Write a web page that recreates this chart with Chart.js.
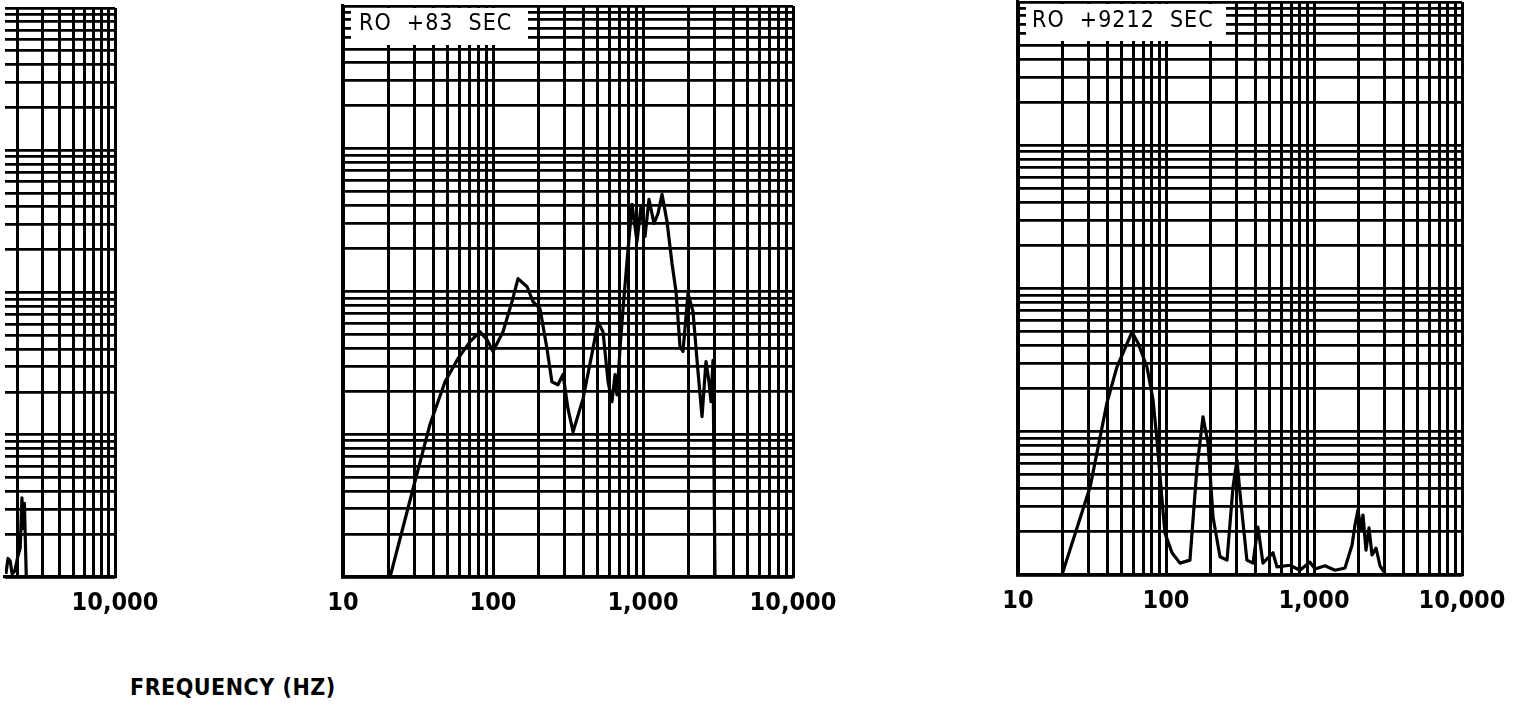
<!DOCTYPE html>
<html>
<head>
<meta charset="utf-8">
<title>Frequency spectra</title>
<script src="https://cdn.jsdelivr.net/npm/chart.js@4.4.1/dist/chart.umd.min.js"></script>
<style>
  html, body { margin: 0; padding: 0; background: #fff; }
  body { width: 1531px; height: 709px; position: relative; overflow: hidden; }
  canvas { position: absolute; top: 0; }
  #freqLabel {
    position: absolute; left: 130px; top: 674px;
    font: bold 23px "DejaVu Sans Condensed", sans-serif;
    letter-spacing: 0.5px; color: #000; white-space: nowrap;
  }
</style>
</head>
<body>
<canvas id="leftChart"></canvas>
<canvas id="midChart"></canvas>
<canvas id="rightChart"></canvas>
<div id="freqLabel">FREQUENCY (HZ)</div>

<script>
/* ------------------------------------------------------------
------------------------------------------------------------ */
const xTickLabels = { 10: '10', 100: '100', 1000: '1,000', 10000: '10,000' };

// panneau gauche (coupé) – juste la queue de la courbe
const leftFreq  = [1640, 1700, 1760, 1820, 1900, 2000, 2080, 2140, 2180, 2230, 2300];
const leftLevel = [1.05e-4, 1.35e-4, 1.3e-4, 1.05e-4, 1.1e-4, 1.4e-4, 1.6e-4, 3.6e-4, 2.2e-4, 3.3e-4, 1.0e-4];

// RO +83 SEC
const midFreq = [20.6, 29.3, 38.0, 47.9, 58.4, 70.3, 81.9, 91.2, 100, 116.6,
  133.9, 146.8, 168.6, 184.8, 205.7, 229, 247, 271, 293, 316,
  342, 398, 464, 501, 541, 585, 621, 651, 671, 703,
  736, 782, 845, 912, 970, 1031, 1096, 1184, 1259, 1339,
  1445, 1561, 1660, 1765, 1848, 1995, 2154, 2326, 2474, 2630,
  2754, 2840, 2928, 3020];
const midLevel = [1.0e-4, 4.15e-4, 1.17e-3, 2.33e-3, 3.39e-3, 4.46e-3, 5.23e-3, 4.6e-3, 3.8e-3, 5.23e-3,
  8.5e-3, 1.23e-2, 1.08e-2, 8.5e-3, 7.6e-3, 3.98e-3, 2.33e-3, 2.22e-3, 2.62e-3, 1.51e-3,
  1.04e-3, 1.77e-3, 3.98e-3, 6.15e-3, 5.23e-3, 2.33e-3, 1.69e-3, 2.62e-3, 1.89e-3, 3.98e-3,
  7.6e-3, 1.62e-2, 4.08e-2, 2.24e-2, 3.94e-2, 2.43e-2, 4.42e-2, 3.0e-2, 3.52e-2, 4.8e-2,
  3.1e-2, 1.57e-2, 1.0e-2, 4.11e-3, 3.8e-3, 9.7e-3, 7.24e-3, 2.75e-3, 1.33e-3, 3.23e-3,
  2.33e-3, 1.69e-3, 3.3e-3, 1.0e-4];

// RO +9212 SEC
const rightFreq = [19.8, 30.7, 39.9, 46.6, 58.9, 64.7, 74.4, 81.7, 86.9, 94.0,
  98.4, 109.8, 124.3, 145.2, 162, 177.8, 192.2, 207.8, 231.7, 258.4,
  283.6, 301.8, 316, 352, 387, 418, 452, 528, 562, 689,
  803, 939, 1016, 1186, 1386, 1619, 1808, 1892, 1982, 2078,
  2143, 2245, 2353, 2466, 2625, 2793, 2971];
const rightLevel = [1.0e-4, 4.11e-4, 1.59e-3, 2.83e-3, 4.97e-3, 4.17e-3, 2.83e-3, 1.67e-3, 8.76e-4, 3.34e-4,
  1.96e-4, 1.43e-4, 1.21e-4, 1.27e-4, 5.68e-4, 1.27e-3, 8.35e-4, 2.54e-4, 1.34e-4, 1.27e-4,
  4.11e-4, 6.35e-4, 3.74e-4, 1.27e-4, 1.21e-4, 2.16e-4, 1.21e-4, 1.43e-4, 1.14e-4, 1.17e-4,
  1.08e-4, 1.23e-4, 1.1e-4, 1.16e-4, 1.08e-4, 1.12e-4, 1.62e-4, 2.23e-4, 2.84e-4, 2.06e-4,
  2.62e-4, 1.49e-4, 2.13e-4, 1.38e-4, 1.54e-4, 1.16e-4, 1.05e-4];

const yMin = 1e-4, yMax = 1;

/* ------------------------------------------------------------
   Quadrillage log-log : 1..9 par décade
------------------------------------------------------------ */
function logGrid(min, max) {
  const out = [];
  for (let e = Math.floor(Math.log10(min)); e <= Math.ceil(Math.log10(max)); e++) {
    for (let m = 1; m <= 9; m++) {
      const v = +(m * Math.pow(10, e)).toPrecision(3);
      if (v >= min * 0.999 && v <= max * 1.001) out.push(v);
    }
  }
  return out;
}

/* cartouche blanc "RO +xx SEC" */
const tagPlugin = {
  id: 'tag',
  beforeDatasetsDraw(chart, args, o) {
    if (!o.text) return;
    const { ctx, chartArea } = chart;
    ctx.save();
    ctx.fillStyle = '#fff';
    ctx.fillRect(chartArea.left + o.inset, chartArea.top + 2, o.width, o.height);
    ctx.fillStyle = '#000';
    ctx.font = o.font;
    ctx.letterSpacing = '1px';
    ctx.textBaseline = 'middle';
    ctx.fillText(o.text, chartArea.left + o.textX, chartArea.top + o.textY);
    ctx.restore();
  }
};

function makePanel(id, p) {
  const padL = 60, padR = 60, axisH = 46;
  const canvas = document.getElementById(id);
  canvas.width = p.right - p.left + padL + padR;
  canvas.height = p.bottom + axisH;
  canvas.style.left = (p.left - padL) + 'px';

  const xGrid = logGrid(10, 10000).filter(v => v >= p.xMin);
  const yGrid = logGrid(yMin, yMax);

  return new Chart(canvas.getContext('2d'), {
    type: 'line',
    data: {
      datasets: [{
        data: p.freq.map((f, i) => ({ x: f, y: p.level[i] })),
        borderColor: '#000',
        borderWidth: 3.2,
        borderJoinStyle: 'round',
        pointRadius: 0,
        tension: 0,
        fill: false
      }]
    },
    options: {
      responsive: false,
      animation: false,
      layout: { padding: { left: padL, right: padR, top: p.top, bottom: 0 } },
      plugins: {
        legend: { display: false },
        tooltip: { enabled: false },
        tag: p.tag || {}
      },
      scales: {
        x: {
          type: 'logarithmic',
          min: p.xMin, max: 10000,
          afterBuildTicks: s => { s.ticks = xGrid.map(v => ({ value: v })); },
          afterFit: s => { s.height = axisH; },
          grid: { color: '#000', lineWidth: 3, drawTicks: false },
          border: { display: true, color: '#000', width: 3.2 },
          ticks: {
            autoSkip: false, maxRotation: 0, padding: 11, color: '#000',
            font: { family: '"DejaVu Sans Condensed", sans-serif', weight: 'bold', size: 25 },
            callback: v => xTickLabels[v] || ''
          }
        },
        y: {
          type: 'logarithmic',
          min: yMin, max: yMax,
          afterBuildTicks: s => { s.ticks = yGrid.map(v => ({ value: v })); },
          afterFit: s => { s.width = 0; },
          grid: { color: '#000', lineWidth: 2.8, drawTicks: false },
          border: { display: p.leftBorder !== false, color: '#000', width: 3.2 },
          ticks: { display: false }
        }
      }
    },
    plugins: [tagPlugin]
  });
}

makePanel('leftChart', {
  left: 5, right: 115, top: 8, bottom: 577,
  xMin: Math.pow(10, 4 - 110 / 139), leftBorder: false,
  freq: leftFreq, level: leftLevel
});

makePanel('midChart', {
  left: 343, right: 793, top: 6, bottom: 577, xMin: 10,
  freq: midFreq, level: midLevel,
  tag: { text: 'RO  +83  SEC', inset: 8, width: 177, height: 37, textX: 16, textY: 18,
         font: '23px "DejaVu Sans Condensed", sans-serif' }
});

makePanel('rightChart', {
  left: 1018, right: 1462, top: 2, bottom: 575, xMin: 10,
  freq: rightFreq, level: rightLevel,
  tag: { text: 'RO  +9212  SEC', inset: 8, width: 200, height: 37, textX: 14, textY: 19,
         font: '23px "DejaVu Sans Condensed", sans-serif' }
});
</script>
</body>
</html>
